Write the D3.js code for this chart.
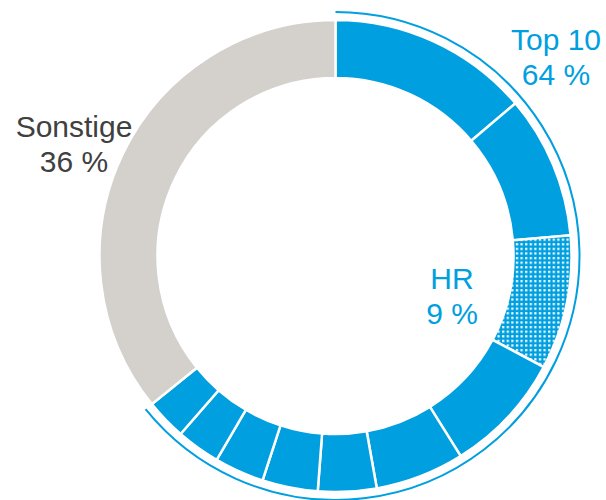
<html>
<head>
<script src="https://d3js.org/d3.v7.min.js"></script>
<style>
  body{margin:0;background:#fff;}
  text{font-family:"Liberation Sans",Arial,sans-serif;font-size:30px;}
</style>
</head>
<body>
<script>
// ring segments, clockwise from 12 o'clock
const segNames = ["Top 1","Top 2","HR","Top 4","Top 5","Top 6","Top 7","Top 8","Top 9","Top 10","Sonstige"];
const segShares = [13.8, 9.8, 9.2, 8.3, 6.1, 4.0, 3.8, 3.4, 3.0, 2.8, 35.8];
const segGroup = ["top","top","hr","top","top","top","top","top","top","top","other"];

// labels
const labelNames = ["Top 10","HR","Sonstige"];
const labelValues = [64, 9, 36];

const w = 606, h = 500;
const cx = 335.5, cy = 256;
const rOuter = 236, rInner = 178, rBracket = 244;
const blue = "#009fe0", grey = "#d4d1cc", dark = "#404040";

const data = segNames.map((n,i)=>({name:n, value:segShares[i], group:segGroup[i]}));

const svg = d3.select("body").append("svg")
  .attr("width",w)
  .attr("height",h);

// dotted pattern for HR
const defs = svg.append("defs");
const pat = defs.append("pattern")
  .attr("id","dots")
  .attr("patternUnits","userSpaceOnUse")
  .attr("width",4.6)
  .attr("height",4.6);
pat.append("rect").attr("width",4.6).attr("height",4.6).attr("fill",blue);
pat.append("rect").attr("x",1).attr("y",1).attr("width",2.2).attr("height",2.2).attr("fill","#fff");

const pie = d3.pie().sort(null).value(d=>d.value);
const arcs = pie(data);

const arc = d3.arc().innerRadius(rInner).outerRadius(rOuter);

const g = svg.append("g").attr("transform","translate("+cx+","+cy+")");

g.selectAll("path.seg")
  .data(arcs)
  .enter()
  .append("path")
  .attr("class","seg")
  .attr("d",arc)
  .attr("fill",d=>d.data.group=="other" ? grey : (d.data.group=="hr" ? "url(#dots)" : blue))
  .attr("stroke","#fff")
  .attr("stroke-width",2.5);

// bracket arc around the top 10
const topArcs = arcs.filter(d=>d.data.group!="other");
const bracket = d3.arc()
  .innerRadius(rBracket)
  .outerRadius(rBracket)
  .startAngle(topArcs[0].startAngle)
  .endAngle(topArcs[topArcs.length-1].endAngle);

g.append("path")
  .attr("d",bracket())
  .attr("fill","none")
  .attr("stroke",blue)
  .attr("stroke-width",2);

// labels
const labelPos = [
  {x:556, y:50, color:blue},
  {x:452, y:289, color:blue},
  {x:74, y:137, color:dark}
];

labelNames.forEach(function(n,i){
  const t = svg.append("text")
    .attr("text-anchor","middle")
    .attr("fill",labelPos[i].color);
  t.append("tspan").attr("x",labelPos[i].x).attr("y",labelPos[i].y).text(n);
  t.append("tspan").attr("x",labelPos[i].x).attr("y",labelPos[i].y+34.5).text(labelValues[i]+" %");
});
</script>
</body>
</html>
